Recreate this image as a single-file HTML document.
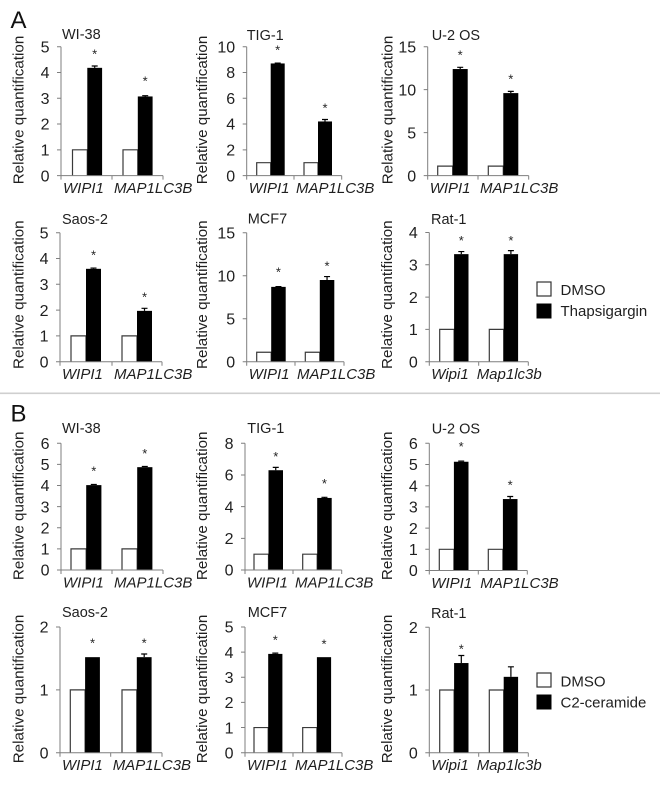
<!DOCTYPE html>
<html lang="en">
<head>
<meta charset="utf-8">
<title>Relative quantification charts</title>
<style>
html,body{margin:0;padding:0;background:#fff;}
#figure{display:block;width:660px;height:787px;filter:blur(0.35px);}
text{font-family:"Liberation Sans",Arial,sans-serif;fill:#1f1f1f;}
</style>
</head>
<body>
<svg id="figure" xmlns="http://www.w3.org/2000/svg" width="660" height="787" viewBox="0 0 660 787">
  <rect x="0" y="0" width="660" height="787" fill="#ffffff"/>
  <text x="10.5" y="28" font-size="24" style="fill:#111">A</text>
  <text x="10.5" y="421.5" font-size="24" style="fill:#111">B</text>
  <rect x="0" y="392.5" width="660" height="1.6" fill="#cfcfcf"/>
  <g>
    <rect x="537" y="282" width="14" height="14" fill="#fff" stroke="#333" stroke-width="1.2"/>
    <text x="560.5" y="295" font-size="15">DMSO</text>
    <rect x="537" y="304" width="14" height="14" fill="#000" stroke="#000" stroke-width="1"/>
    <text x="560.5" y="316" font-size="15">Thapsigargin</text>
  </g>
  <g>
    <rect x="537" y="673" width="14" height="14" fill="#fff" stroke="#333" stroke-width="1.2"/>
    <text x="560.5" y="686.5" font-size="15">DMSO</text>
    <rect x="537" y="695" width="14" height="14" fill="#000" stroke="#000" stroke-width="1"/>
    <text x="560.5" y="707.5" font-size="15">C2-ceramide</text>
  </g>
  <g id="charts"></g>
</svg>
<script>
// ---- chart data ----
const panelTitles = ['WI-38','TIG-1','U-2 OS','Saos-2','MCF7','Rat-1','WI-38','TIG-1','U-2 OS','Saos-2','MCF7','Rat-1'];
const tickLabels = [
  [0,1,2,3,4,5],[0,2,4,6,8,10],[0,5,10,15],
  [0,1,2,3,4,5],[0,5,10,15],[0,1,2,3,4],
  [0,1,2,3,4,5,6],[0,2,4,6,8],[0,1,2,3,4,5,6],
  [0,1,2],[0,1,2,3,4,5],[0,1,2]
];
const humanCategories = ['WIPI1','MAP1LC3B'];
const ratCategories = ['Wipi1','Map1lc3b'];
const dmsoValues = [
  [1,1],[1,1],[1.1,1.1],
  [1,1],[1.1,1.1],[1,1],
  [1,1],[1,1],[1,1],
  [1,1],[1,1],[1,1]
];
const treatedValues = [
  [4.18,3.07],[8.7,4.2],[12.4,9.6],
  [3.6,1.97],[8.7,9.5],[3.33,3.33],
  [4.02,4.87],[6.3,4.55],[5.13,3.37],
  [1.52,1.52],[3.93,3.8],[1.43,1.21]
];
const treatedErrors = [
  [0.07,0.03],[0.03,0.15],[0.2,0.2],
  [0.03,0.1],[0.03,0.4],[0.08,0.11],
  [0.03,0.03],[0.18,0.04],[0.03,0.12],
  [0,0.05],[0.03,0],[0.12,0.16]
];
const starLevels = [
  [4.84,3.78],[9.98,5.46],[14.36,11.6],
  [4.26,2.62],[10.77,11.5],[3.84,3.84],
  [4.82,5.65],[7.37,5.64],[6.0,4.17],
  [1.79,1.79],[4.6,4.44],[1.7,null]
];

// ---- page layout (not data) ----
const panelLayout = [
  {l:61,m:112,r:163,t:46.7,b:175.6,g:[72.5,123],w:14.8,lx:18,ly:110,tx:62,ty:39},
  {l:246.7,m:294,r:341.7,t:46.7,b:175.6,g:[256.7,304],w:14,lx:201.7,ly:110,tx:246.7,ty:40},
  {l:427.7,m:478,r:528.7,t:46.7,b:175.6,g:[437.7,488.3],w:15,lx:387,ly:110,tx:431.7,ty:40},
  {l:60,m:112,r:162,t:232.7,b:361.7,g:[71,122],w:15,lx:18,ly:294.7,tx:62,ty:224},
  {l:246.7,m:295,r:344,t:232.7,b:361.7,g:[256.7,305.3],w:14.5,lx:201.7,ly:294.7,tx:247.7,ty:223.5},
  {l:429.3,m:478.7,r:528.3,t:232.5,b:361.7,g:[439.7,489.3],w:14.4,lx:386.7,ly:294.7,tx:431,ty:224,rat:true},
  {l:61,m:112,r:163,t:443.3,b:570,g:[71,122],w:15.2,lx:18,ly:505.8,tx:62,ty:433},
  {l:245,m:293,r:341.7,t:443.3,b:570,g:[254,302.7],w:14.5,lx:201.7,ly:505.8,tx:247.3,ty:433},
  {l:429.3,m:478.3,r:527.3,t:443.3,b:570.5,g:[439.3,488.3],w:14.6,lx:386.7,ly:505.8,tx:431.7,ty:433.3},
  {l:60,m:110.7,r:162,t:627,b:752.7,g:[70.3,122],w:14.8,lx:18,ly:689,tx:62,ty:617},
  {l:245,m:293,r:342,t:627,b:752.7,g:[254,302.7],w:14.2,lx:201.7,ly:689,tx:247.7,ty:617},
  {l:429.3,m:478.7,r:528.3,t:627.3,b:752.7,g:[439.7,489.3],w:14.4,lx:386.7,ly:689,tx:431,ty:618,rat:true}
];

const SVGNS = 'http://www.w3.org/2000/svg';
const root = document.getElementById('charts');
const AXIS = '#7f7f7f';

function mk(parent, tag, attrs, txt){
  const el = document.createElementNS(SVGNS, tag);
  for (const k in attrs) el.setAttribute(k, attrs[k]);
  if (txt !== undefined) el.textContent = txt;
  parent.appendChild(el);
  return el;
}

panelTitles.forEach(function(title, i){
  const box = panelLayout[i];
  const ticks = tickLabels[i];
  const yMax = ticks[ticks.length - 1];
  const yScale = function(v){ return box.b - (v / yMax) * (box.b - box.t); };
  const barX = function(group, series){ return box.g[group] + series * box.w; };

  const g = mk(root, 'g', {});
  
  

  const titleEl = mk(g, 'text', {x: box.tx, y: box.ty, 'font-size': 14.5}, title);
  
  

  const yTitle = mk(g, 'text', {
    x: 0, y: 0, 'font-size': 15.2, 'text-anchor': 'middle',
    transform: 'translate(' + (box.lx + 5.5) + ' ' + box.ly + ') rotate(-90)'
  }, 'Relative quantification');
  
  

  const categories = box.rat ? ratCategories : humanCategories;
  categories.forEach(function(cat, c){
    const dmsoTop = yScale(dmsoValues[i][c]);
    const white = mk(g, 'path', {
      d: 'M' + barX(c,0) + ' ' + box.b + 'V' + dmsoTop + 'H' + barX(c,1) + 'V' + box.b,
      fill: '#fff', stroke: '#3a3a3a', 'stroke-width': 1.2
    });
    
    

    const treatedTop = yScale(treatedValues[i][c]);
    const black = mk(g, 'rect', {
      x: barX(c,1), y: treatedTop, width: box.w, height: box.b - treatedTop, fill: '#000'
    });
    
    

    const err = treatedErrors[i][c];
    if (err > 0) {
      const cx = barX(c,1) + box.w / 2;
      const ey = yScale(treatedValues[i][c] + err);
      const errEl = mk(g, 'path', {
        d: 'M' + cx + ' ' + treatedTop + 'V' + ey + 'M' + (cx - 3) + ' ' + ey + 'H' + (cx + 3),
        stroke: '#000', 'stroke-width': 1.2, fill: 'none'
      });
      
      
    }

    const star = starLevels[i][c];
    if (star !== null) {
      const starEl = mk(g, 'text', {
        x: barX(c,1) + box.w / 2, y: yScale(star) + 7.5, 'font-size': 13, 'text-anchor': 'middle'
      }, '*');
      
      
    }

    const anchor = c === 0 ? box.l + 2 : box.m + (box.rat ? -2 : 2);
    const catEl = mk(g, 'text', {
      x: anchor, y: box.b + 17.4, 'font-size': 15, 'font-style': 'italic'
    }, cat);
    
    
  });

  let d = 'M' + box.l + ' ' + box.t + 'V' + box.b + 'H' + box.r;
  [box.l, box.m, box.r].forEach(function(x){ d += 'M' + x + ' ' + box.b + 'v4'; });
  ticks.forEach(function(t){ d += 'M' + (box.l - 4) + ' ' + yScale(t) + 'H' + box.l; });
  const axis = mk(g, 'path', {d: d, stroke: AXIS, 'stroke-width': 1, fill: 'none'});
  
  

  ticks.forEach(function(t){
    const lab = mk(g, 'text', {
      x: box.l - 11.5, y: yScale(t) + 5.7, 'font-size': 16, 'text-anchor': 'end'
    }, String(t));
    
    
  });
});
</script>
</body>
</html>
